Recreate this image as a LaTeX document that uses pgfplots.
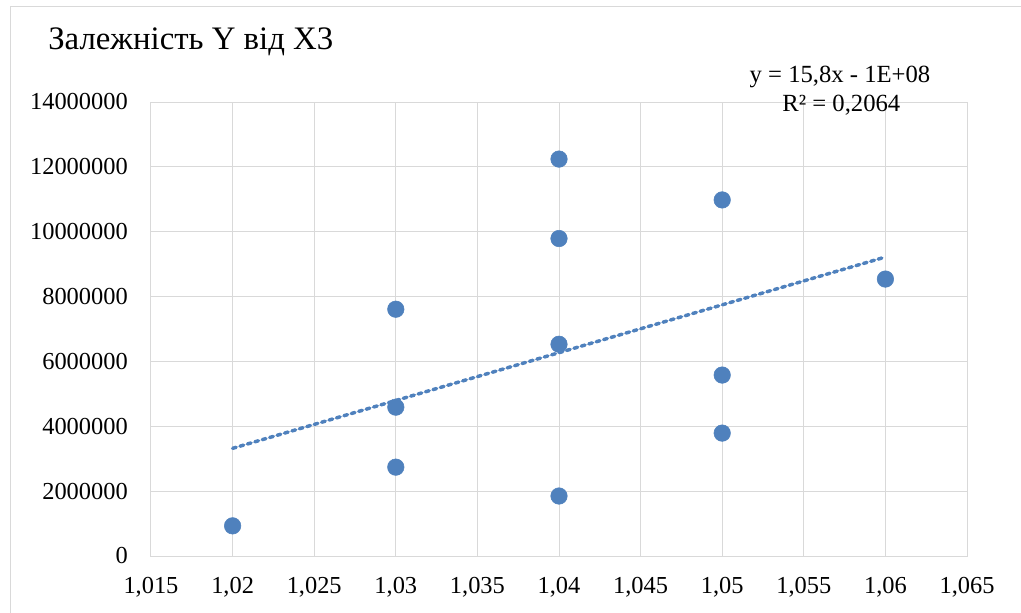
\documentclass[border=0pt]{standalone}
\usepackage{pgfplots}
\pgfplotsset{compat=1.18}
\usepackage{fontspec}
\setmainfont{Liberation Serif}
\definecolor{ptblue}{RGB}{79,129,189}
\definecolor{gridgray}{RGB}{217,217,217}
\begin{document}
\begin{tikzpicture}
\useasboundingbox (0,0) rectangle (765.75pt,459pt);
\fill[white] (0,0) rectangle (765.75pt,459pt);
% chart frame
\draw[gridgray, line width=0.75pt] (7.5pt,-2pt) -- (7.5pt,453.75pt) -- (768pt,453.75pt);
% title
\node[anchor=base west, inner sep=0pt, font=\fontsize{24.6}{24.6}\selectfont] at (36pt,421.5pt) {Залежність Y від X3};
\begin{axis}[
  at={(113.25pt,42pt)}, anchor=south west,
  scale only axis, width=612pt, height=340.5pt,
  xmin=1.015, xmax=1.065, ymin=0, ymax=14000000,
  xtick={1.015,1.02,1.025,1.03,1.035,1.04,1.045,1.05,1.055,1.06,1.065},
  xticklabels={{1,015},{1,02},{1,025},{1,03},{1,035},{1,04},{1,045},{1,05},{1,055},{1,06},{1,065}},
  ytick={0,2000000,4000000,6000000,8000000,10000000,12000000,14000000},
  yticklabels={0,2000000,4000000,6000000,8000000,10000000,12000000,14000000},
  scaled y ticks=false, scaled x ticks=false,
  grid=major, major grid style={gridgray, line width=0.75pt},
  axis line style={gridgray, line width=0.75pt},
  major tick length=0pt,
  tick label style={font=\fontsize{18.3}{18.3}\selectfont, text=black},
  yticklabel style={anchor=east, inner sep=0pt, xshift=-17.25pt},
  xticklabel style={anchor=north, inner sep=0pt, yshift=-15.75pt},
  clip=false,
]
\addplot[only marks, mark=*, mark size=6.2pt, color=ptblue, mark options={draw=ptblue, fill=ptblue}] coordinates {
  (1.02,930000)
  (1.03,7610000) (1.03,4590000) (1.03,2740000)
  (1.04,12240000) (1.04,9790000) (1.04,6530000) (1.04,1850000)
  (1.05,10980000) (1.05,5580000) (1.05,3790000)
  (1.06,8540000)
};
\addplot[ptblue, line width=2.6pt, line cap=round, dash pattern=on 2.8pt off 3pt] coordinates {
  (1.02,3320000) (1.06,9220000)
};
\end{axis}
% trendline label
\node[anchor=base, inner sep=0pt, font=\fontsize{18.5}{18.5}\selectfont] at (630pt,396.75pt) {y = 15,8x - 1E+08};
\node[anchor=base, inner sep=0pt, font=\fontsize{18.5}{18.5}\selectfont] at (631pt,375pt) {R² = 0,2064};
\end{tikzpicture}
\end{document}
